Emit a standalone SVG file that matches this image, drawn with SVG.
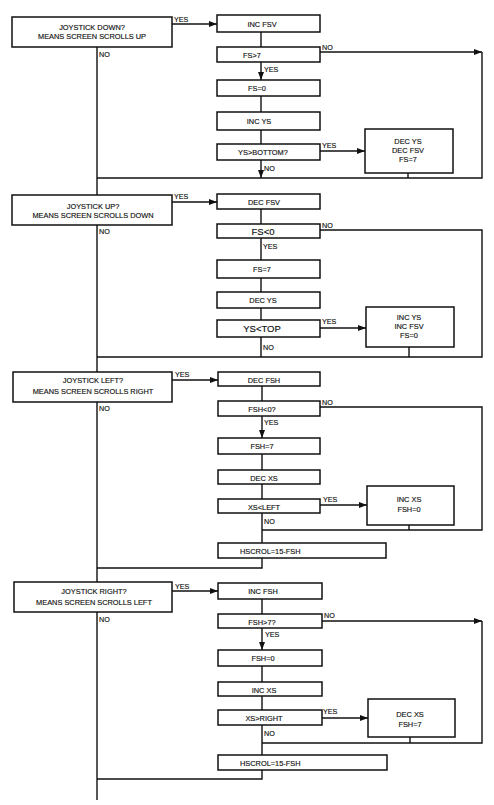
<svg xmlns="http://www.w3.org/2000/svg" width="494" height="805" viewBox="0 0 494 805">
<defs>
<marker id="ah" markerWidth="8" markerHeight="6" refX="8" refY="3" orient="auto" markerUnits="userSpaceOnUse"><path d="M0,0 L8,3 L0,6 z" fill="#111"/></marker>
<style>
.box{fill:#fff;stroke:#111;stroke-width:1.5}
.ln{fill:none;stroke:#111;stroke-width:1.4}
.arr{fill:none;stroke:#111;stroke-width:1.4;marker-end:url(#ah)}
text{font-family:"Liberation Sans",Arial,sans-serif;font-size:7.4px;fill:#111;stroke:#111;stroke-width:0.15}
.c{text-anchor:middle}
.big{font-size:9.5px}
.lb{font-size:7.2px}
</style>
</defs>
<rect width="494" height="805" fill="#fff"/>
<g id="connectors">
<path class="ln" d="M97,47 V195 M97,225 V372 M97,402 V582 M97,612 V800"/>
<path class="arr" d="M172,24 H217"/>
<path class="ln" d="M261,32 V47 M261,96 V112 M261,130 V144"/>
<path class="arr" d="M320,52 H482"/>
<path class="ln" d="M482,52 V178 H97 M408,173 V178"/>
<path class="arr" d="M261,62 V80"/>
<path class="arr" d="M320,151 H365"/>
<path class="arr" d="M261,160 V178"/>
<path class="arr" d="M172,202 H217"/>
<path class="ln" d="M261,209 V224 M261,238 V260 M261,278 V292 M261,308 V320 M261,337 V357"/>
<path class="ln" d="M320,230 H482 V357 H97 M409,347 V357"/>
<path class="arr" d="M320,328 H366"/>
<path class="arr" d="M172,380 H218"/>
<path class="ln" d="M262,386 V401 M262,454 V470 M262,484 V499 M262,513 V543"/>
<path class="ln" d="M320,407 H482 V530 H262 M409,525 V530"/>
<path class="arr" d="M262,416 V438"/>
<path class="arr" d="M320,505 H367"/>
<path class="ln" d="M262,558 V568 H97"/>
<path class="arr" d="M172,591 H218"/>
<path class="ln" d="M262,599 V614 M262,666 V682 M262,696 V710 M262,725 V755"/>
<path class="arr" d="M322,621 H482"/>
<path class="ln" d="M482,621 V743 H262 M410,737 V743"/>
<path class="arr" d="M262,628 V650"/>
<path class="arr" d="M322,718 H368"/>
<path class="ln" d="M262,770 V779 H97"/>
</g>
<g id="labels">
<text class="lb" x="174" y="22">YES</text>
<text class="lb" x="99" y="57">NO</text>
<text class="lb" x="322" y="50">NO</text>
<text class="lb" x="264" y="72">YES</text>
<text class="lb" x="322" y="148">YES</text>
<text class="lb" x="264" y="171">NO</text>
<text class="lb" x="174" y="199">YES</text>
<text class="lb" x="99" y="234">NO</text>
<text class="lb" x="322" y="228">NO</text>
<text class="lb" x="263" y="249">YES</text>
<text class="lb" x="322" y="324">YES</text>
<text class="lb" x="263" y="350">NO</text>
<text class="lb" x="175" y="377">YES</text>
<text class="lb" x="99" y="411">NO</text>
<text class="lb" x="322" y="405">NO</text>
<text class="lb" x="264" y="425">YES</text>
<text class="lb" x="323" y="502">YES</text>
<text class="lb" x="264" y="524">NO</text>
<text class="lb" x="175" y="589">YES</text>
<text class="lb" x="99" y="622">NO</text>
<text class="lb" x="324" y="618">NO</text>
<text class="lb" x="265" y="637">YES</text>
<text class="lb" x="323" y="714">YES</text>
<text class="lb" x="264" y="736">NO</text>
</g>
<g id="joy-down"><rect class="box" x="12" y="17" width="160" height="30"/><text class="c" x="92" y="29.5">JOYSTICK DOWN?</text><text class="c" x="92" y="38.5">MEANS SCREEN SCROLLS UP</text></g>
<g id="inc-fsv"><rect class="box" x="217" y="15" width="103" height="17"/><text class="c" x="262" y="26.5">INC FSV</text></g>
<g id="fs-gt7"><rect class="box" x="217" y="47" width="103" height="15"/><text class="c" x="252" y="57.5">FS&gt;7</text></g>
<g id="fs-0"><rect class="box" x="217" y="80" width="103" height="16"/><text class="c" x="257" y="91">FS=0</text></g>
<g id="inc-ys"><rect class="box" x="217" y="112" width="103" height="18"/><text class="c" x="259" y="124">INC YS</text></g>
<g id="ys-bottom"><rect class="box" x="217" y="144" width="103" height="16"/><text class="c" x="263" y="155">YS&gt;BOTTOM?</text></g>
<g id="dec-ys-box"><rect class="box" x="365" y="129" width="88" height="44"/><text class="c" x="408" y="143.5">DEC YS</text><text class="c" x="408" y="153">DEC FSV</text><text class="c" x="408" y="162">FS=7</text></g>
<g id="joy-up"><rect class="box" x="12" y="195" width="160" height="30"/><text class="c" x="93" y="208.5">JOYSTICK UP?</text><text class="c" x="93" y="217.5">MEANS SCREEN SCROLLS DOWN</text></g>
<g id="dec-fsv"><rect class="box" x="217" y="194" width="103" height="15"/><text class="c" x="264" y="204.5">DEC FSV</text></g>
<g id="fs-lt0"><rect class="box" x="217" y="224" width="103" height="14"/><text class="c big" x="263" y="234.5">FS&lt;0</text></g>
<g id="fs-7"><rect class="box" x="217" y="260" width="103" height="18"/><text class="c" x="262" y="272">FS=7</text></g>
<g id="dec-ys"><rect class="box" x="217" y="292" width="103" height="16"/><text class="c" x="263" y="303">DEC YS</text></g>
<g id="ys-top"><rect class="box" x="217" y="320" width="103" height="17"/><text class="c big" x="262" y="332">YS&lt;TOP</text></g>
<g id="inc-ys-box"><rect class="box" x="366" y="307" width="88" height="40"/><text class="c" x="409" y="319.5">INC YS</text><text class="c" x="409" y="329">INC FSV</text><text class="c" x="409" y="338">FS=0</text></g>
<g id="joy-left"><rect class="box" x="13" y="372" width="159" height="30"/><text class="c" x="93" y="382.5">JOYSTICK LEFT?</text><text class="c" x="93" y="393.5">MEANS SCREEN SCROLLS RIGHT</text></g>
<g id="dec-fsh"><rect class="box" x="218" y="372" width="102" height="14"/><text class="c" x="264" y="382.5">DEC FSH</text></g>
<g id="fsh-lt0"><rect class="box" x="218" y="401" width="102" height="15"/><text class="c" x="262" y="411.5">FSH&lt;0?</text></g>
<g id="fsh-7"><rect class="box" x="218" y="438" width="102" height="16"/><text class="c" x="262" y="449">FSH=7</text></g>
<g id="dec-xs"><rect class="box" x="218" y="470" width="102" height="14"/><text class="c" x="264" y="480.5">DEC XS</text></g>
<g id="xs-left"><rect class="box" x="218" y="499" width="102" height="14"/><text class="c" x="264" y="509.5">XS&lt;LEFT</text></g>
<g id="inc-xs-box"><rect class="box" x="367" y="486" width="87" height="39"/><text class="c" x="409" y="502">INC XS</text><text class="c" x="409" y="512">FSH=0</text></g>
<g id="hscrol-1"><rect class="box" x="218" y="543" width="168" height="15"/><text x="240" y="553.5">HSCROL=15-FSH</text></g>
<g id="joy-right"><rect class="box" x="14" y="582" width="158" height="30"/><text class="c" x="94" y="594">JOYSTICK RIGHT?</text><text class="c" x="94" y="604.5">MEANS SCREEN SCROLLS LEFT</text></g>
<g id="inc-fsh"><rect class="box" x="218" y="583" width="104" height="16"/><text class="c" x="263" y="594">INC FSH</text></g>
<g id="fsh-gt7"><rect class="box" x="218" y="614" width="104" height="14"/><text class="c" x="262" y="624.5">FSH&gt;7?</text></g>
<g id="fsh-0"><rect class="box" x="218" y="650" width="104" height="16"/><text class="c" x="263" y="661">FSH=0</text></g>
<g id="inc-xs"><rect class="box" x="218" y="682" width="104" height="14"/><text class="c" x="264" y="692.5">INC XS</text></g>
<g id="xs-right"><rect class="box" x="218" y="710" width="104" height="15"/><text class="c" x="264" y="720.5">XS&gt;RIGHT</text></g>
<g id="dec-xs-box"><rect class="box" x="368" y="699" width="87" height="38"/><text class="c" x="410" y="716.5">DEC XS</text><text class="c" x="410" y="726.5">FSH=7</text></g>
<g id="hscrol-2"><rect class="box" x="218" y="755" width="169" height="15"/><text x="240" y="765.5">HSCROL=15-FSH</text></g>
</svg>
